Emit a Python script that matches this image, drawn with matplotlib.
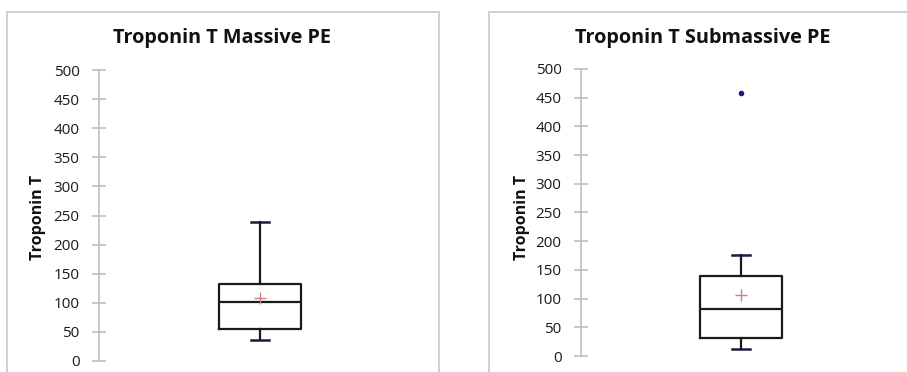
"""Troponin T box plots, massive vs submassive PE (Excel-style panels)."""
import matplotlib
matplotlib.use("Agg")
import matplotlib.pyplot as plt
from matplotlib.patches import Rectangle

plt.rcParams["font.family"] = ["Open Sans", "DejaVu Sans"]

titles = ["Troponin T Massive PE", "Troponin T Submassive PE"]
ylabel = "Troponin T"
yticks = [0, 50, 100, 150, 200, 250, 300, 350, 400, 450, 500]

# box statistics
whislo = [36, 12]
q1 = [55, 31]
med = [101, 82]
q3 = [132, 139]
whishi = [239, 176]
means = [108, 106]
fliers = [[], [458]]

W, H = 907, 372
fig = plt.figure(figsize=(W / 100, H / 100), dpi=100)

# pixel layouts: (axes left, right, y of 0, y of 500), chart frame (left, right, top)
ax_px = [(99, 421, 361, 70), (581, 901, 356, 69)]
frame_px = [(7, 439, 12), (489, 915, 12)]
title_px = [(222, 38), (703, 38)]
ylab_px = [38, 522]

for i in range(2):
    fl, fr, ft = frame_px[i]
    fig.patches.append(Rectangle((fl / W, -0.1), (fr - fl) / W, 1.1 - ft / H,
                                 transform=fig.transFigure, fill=False,
                                 edgecolor="#c8c8c8", lw=1.2))
    l, r, y0, y1 = ax_px[i]
    ax = fig.add_axes([l / W, 1 - y0 / H, (r - l) / W, (y0 - y1) / H])
    stats = [dict(whislo=whislo[i], q1=q1[i], med=med[i], q3=q3[i],
                  whishi=whishi[i], mean=means[i], fliers=fliers[i])]
    ax.bxp(stats, positions=[1], widths=[0.51], showmeans=True,
           boxprops=dict(color="#1a1a1a", lw=1.6),
           medianprops=dict(color="#1a1a1a", lw=1.6),
           whiskerprops=dict(color="#1a1a1a", lw=1.6),
           capprops=dict(color="#1a1a40", lw=1.8),
           capwidths=[0.11],
           meanprops=dict(marker="+", markeredgecolor="#d08080",
                          markersize=8, mew=1),
           flierprops=dict(marker="o", markerfacecolor="#1a1a80",
                           markeredgecolor="#1a1a80", markersize=3))
    ax.set_xlim(0, 2)
    ax.set_ylim(0, 500)
    ax.set_yticks(yticks)
    ax.set_xticks([])
    for s in ("top", "right", "bottom"):
        ax.spines[s].set_visible(False)
    ax.spines["left"].set_color("#bfbfbf")
    ax.spines["left"].set_linewidth(1.2)
    ax.tick_params(axis="y", direction="inout", length=10, width=1.2,
                   color="#bfbfbf", labelsize=11, labelcolor="#1a1a1a", pad=9)
    ax.patch.set_visible(False)
    for art in ax.get_children():
        art.set_clip_on(False)
    tx, ty = title_px[i]
    fig.text(tx / W, 1 - ty / H, titles[i], ha="center", va="center",
             fontsize=14.3, fontweight="bold", color="#111111")
    fig.text(ylab_px[i] / W, 1 - 217 / H, ylabel, ha="center", va="center",
             rotation=90, fontsize=11.5, fontweight="bold", color="#111111")

fig.savefig("out.png", dpi=100)
